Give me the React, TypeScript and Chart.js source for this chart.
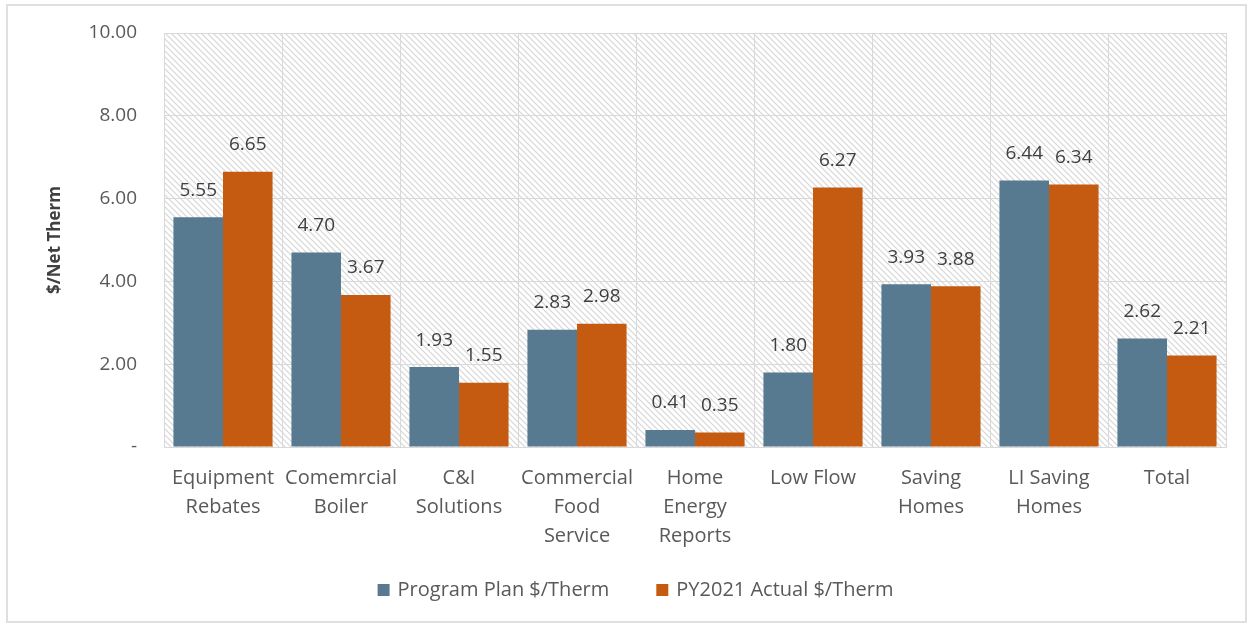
import React, { useEffect, useRef } from "react";
import { Chart, registerables } from "chart.js";

Chart.register(...registerables);

const categories: string[][] = [
  ["Equipment", "Rebates"],
  ["Comemrcial", "Boiler"],
  ["C&I", "Solutions"],
  ["Commercial", "Food", "Service"],
  ["Home", "Energy", "Reports"],
  ["Low Flow"],
  ["Saving", "Homes"],
  ["LI Saving", "Homes"],
  ["Total"],
];

const planPerTherm = [5.55, 4.7, 1.93, 2.83, 0.41, 1.8, 3.93, 6.44, 2.62];
const actualPerTherm = [6.65, 3.67, 1.55, 2.98, 0.35, 6.27, 3.88, 6.34, 2.21];

const seriesNames = ["Program Plan $/Therm", "PY2021 Actual $/Therm"];
const seriesColors = ["#587A91", "#C55A11"];

const yTicks = [0, 2, 4, 6, 8, 10];

const FONT = "'Open Sans', 'DejaVu Sans', sans-serif";
const TEXT = "#595959";
const GRID = "#d9d9d9";

function makeHatch(ctx: CanvasRenderingContext2D): CanvasPattern | string {
  const c = document.createElement("canvas");
  const s = 6;
  c.width = s;
  c.height = s;
  const g = c.getContext("2d");
  if (!g) return "#fff";
  g.fillStyle = "#ffffff";
  g.fillRect(0, 0, s, s);
  g.strokeStyle = "#d6d6d6";
  g.lineWidth = 1.2;
  g.beginPath();
  g.moveTo(-1, -1);
  g.lineTo(s + 1, s + 1);
  g.moveTo(-1, s - 1);
  g.lineTo(1, s + 1);
  g.moveTo(s - 1, -1);
  g.lineTo(s + 1, 1);
  g.stroke();
  return ctx.createPattern(c, "repeat") || "#fff";
}

// white page, thin outer frame and the hatched plot background
const backdrop = {
  id: "backdrop",
  beforeDraw(chart: any) {
    const { ctx, chartArea, width, height } = chart;
    ctx.save();
    ctx.fillStyle = "#ffffff";
    ctx.fillRect(0, 0, width, height);
    ctx.strokeStyle = "#e0e0e0";
    ctx.lineWidth = 2;
    ctx.strokeRect(7, 5, width - 12, height - 10);
    ctx.fillStyle = makeHatch(ctx);
    ctx.fillRect(
      chartArea.left,
      chartArea.top,
      chartArea.right - chartArea.left,
      chartArea.bottom - chartArea.top
    );
    ctx.restore();
  },
};

// value printed above each bar
const valueLabels = {
  id: "valueLabels",
  afterDatasetsDraw(chart: any) {
    const { ctx } = chart;
    ctx.save();
    ctx.font = `19px ${FONT}`;
    ctx.fillStyle = "#404040";
    ctx.textAlign = "center";
    ctx.textBaseline = "middle";
    chart.data.datasets.forEach((ds: any, i: number) => {
      const meta = chart.getDatasetMeta(i);
      meta.data.forEach((bar: any, j: number) => {
        const v = ds.data[j] as number;
        ctx.fillText(v.toFixed(2), bar.x, bar.y - 27);
      });
    });
    ctx.restore();
  },
};

// legend row under the axis labels
const bottomLegend = {
  id: "bottomLegend",
  afterDraw(chart: any) {
    const { ctx, width } = chart;
    const box = 12;
    const gapBoxText = 8;
    const gapItems = 47;
    ctx.save();
    ctx.font = `20px ${FONT}`;
    const items = chart.data.datasets.map((ds: any) => ({
      text: ds.label as string,
      color: ds.backgroundColor as string,
      w: ctx.measureText(ds.label).width,
    }));
    const total =
      items.reduce((a: number, it: any) => a + box + gapBoxText + it.w, 0) +
      gapItems * (items.length - 1);
    let x = (width + 20) / 2 - total / 2;
    const y = 590;
    ctx.textBaseline = "middle";
    ctx.textAlign = "left";
    items.forEach((it: any) => {
      ctx.fillStyle = it.color;
      ctx.fillRect(x, y - box / 2, box, box);
      x += box + gapBoxText;
      ctx.fillStyle = TEXT;
      ctx.fillText(it.text, x, y);
      x += it.w + gapItems;
    });
    ctx.restore();
  },
};

export default function App() {
  const ref = useRef<HTMLCanvasElement>(null);

  useEffect(() => {
    if (!ref.current) return;
    const chart = new Chart(ref.current, {
      type: "bar",
      data: {
        labels: categories,
        datasets: [
          {
            label: seriesNames[0],
            data: planPerTherm,
            backgroundColor: seriesColors[0],
            categoryPercentage: 0.84,
            barPercentage: 1,
          },
          {
            label: seriesNames[1],
            data: actualPerTherm,
            backgroundColor: seriesColors[1],
            categoryPercentage: 0.84,
            barPercentage: 1,
          },
        ],
      },
      options: {
        responsive: false,
        animation: false,
        layout: { padding: { top: 33, right: 25, bottom: 56, left: 0 } },
        plugins: {
          legend: { display: false },
          tooltip: { enabled: false },
        },
        scales: {
          x: {
            grid: {
              color: GRID,
              offset: true,
              drawTicks: false,
            },
            border: { color: GRID },
            ticks: {
              color: TEXT,
              padding: 17,
              maxRotation: 0,
              autoSkip: false,
              font: { family: FONT, size: 20, lineHeight: 1.45 },
            },
            afterFit(scale: any) {
              scale.height = 124;
              scale.paddingLeft = 0;
              scale.paddingRight = 0;
            },
          },
          y: {
            min: 0,
            max: 10,
            afterBuildTicks(scale: any) {
              scale.ticks = yTicks.map((v) => ({ value: v }));
            },
            grid: { color: GRID, drawTicks: false },
            border: { color: GRID },
            ticks: {
              color: TEXT,
              padding: 27,
              font: { family: FONT, size: 19 },
              callback: (v: any) => (Number(v) === 0 ? "-" : Number(v).toFixed(2)),
            },
            title: {
              display: true,
              text: "$/Net Therm",
              color: "#404040",
              padding: { top: 45, bottom: 0 },
              font: { family: FONT, size: 17, weight: "bold" },
            },
            afterFit(scale: any) {
              scale.width = 164;
              scale.paddingTop = 0;
              scale.paddingBottom = 0;
            },
          },
        },
      },
      plugins: [backdrop, valueLabels, bottomLegend],
    });
    return () => chart.destroy();
  }, []);

  return (
    <div style={{ position: "fixed", left: 0, top: 0, width: 1251, height: 627 }}>
      <canvas ref={ref} width={1251} height={627} />
    </div>
  );
}
